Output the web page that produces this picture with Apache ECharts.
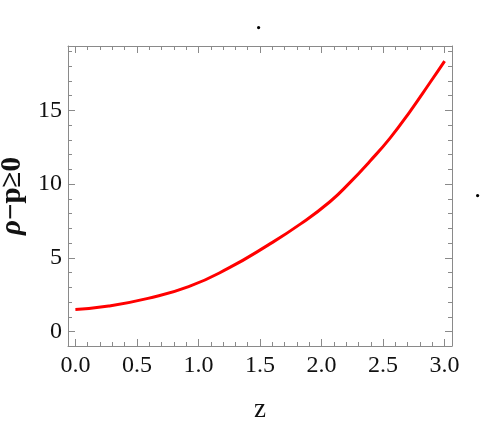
<!DOCTYPE html>
<html>
<head>
<meta charset="utf-8">
<script src="https://cdn.jsdelivr.net/npm/echarts@6/dist/echarts.min.js"></script>
<style>html,body{margin:0;padding:0;background:#fff}#c{width:491px;height:436px}</style>
</head>
<body>
<div id="c"></div>
<script>
const zValues = [0, 0.27, 0.59, 0.92, 1.24, 1.565, 1.83, 2.068, 2.23, 2.393, 2.555, 2.717, 2.879, 3.0];
const rhoMinusP = [1.5, 1.73, 2.25, 3.04, 4.28, 5.86, 7.3, 8.8, 10.1, 11.55, 13.1, 14.9, 16.85, 18.34];
const xTicks = [0, 0.5, 1.0, 1.5, 2.0, 2.5, 3.0];
const xMinor = [0.1,0.2,0.3,0.4,0.6,0.7,0.8,0.9,1.1,1.2,1.3,1.4,1.6,1.7,1.8,1.9,2.1,2.2,2.3,2.4,2.6,2.7,2.8,2.9];
const yTicks = [0, 5, 10, 15];
const yMinor = [1,2,3,4,6,7,8,9,11,12,13,14,16,17,18,19];

const FONT = 'Liberation Serif';
const frameColor = '#8a8a8a';
const xMin = -0.06, xMax = 3.06, yMin = -0.98, yMax = 19.36;

function xAx(pos, vals, len, labels, line) {
  return {
    type: 'value', position: pos, min: xMin, max: xMax,
    axisLine: {show: line, onZero: false, lineStyle: {color: frameColor, width: 1}},
    axisTick: {show: true, inside: true, length: len, customValues: vals, lineStyle: {color: frameColor}},
    axisLabel: labels ? {show: true, customValues: vals, margin: 8, color: '#111', fontFamily: FONT, fontSize: 24,
      formatter: v => v.toFixed(1)} : {show: false},
    splitLine: {show: false}
  };
}
function yAx(pos, vals, len, labels, line) {
  return {
    type: 'value', position: pos, min: yMin, max: yMax,
    axisLine: {show: line, onZero: false, lineStyle: {color: frameColor, width: 1}},
    axisTick: {show: true, inside: true, length: len, customValues: vals, lineStyle: {color: frameColor}},
    axisLabel: labels ? {show: true, customValues: vals, margin: 6, color: '#111', fontFamily: FONT, fontSize: 24,
      formatter: v => String(v)} : {show: false},
    splitLine: {show: false}
  };
}

const xAxes = [
  Object.assign(xAx('bottom', xTicks, 7, true, true), {name: 'z', nameLocation: 'middle', nameGap: 50,
    nameTextStyle: {fontFamily: FONT, fontSize: 27, color: '#111'}}),
  xAx('bottom', xMinor, 4, false, false),
  xAx('top', xTicks, 7, false, true),
  xAx('top', xMinor, 4, false, false)
];
const yAxes = [
  Object.assign(yAx('left', yTicks, 7, true, true), {name: '{i|ρ}−p≥0', nameLocation: 'middle', nameGap: 36,
    nameTextStyle: {fontFamily: FONT, fontSize: 29, fontWeight: 'bold', color: '#111',
      rich: {i: {fontFamily: FONT, fontSize: 29, fontStyle: 'italic', fontWeight: 'bold', color: '#111'}}}}),
  yAx('left', yMinor, 4, false, false),
  yAx('right', yTicks, 7, false, true),
  yAx('right', yMinor, 4, false, false)
];

const chart = echarts.init(document.getElementById('c'), null, {renderer: 'canvas'});
chart.setOption({
  animation: false,
  backgroundColor: '#fff',
  grid: {left: 68, top: 46, right: 39, bottom: 90, containLabel: false, outerBoundsMode: 'none'},
  xAxis: xAxes,
  yAxis: yAxes,
  graphic: [
    {type: 'circle', left: 257, top: 26, shape: {r: 1.6}, style: {fill: '#000'}},
    {type: 'circle', left: 476, top: 194, shape: {r: 1.6}, style: {fill: '#000'}}
  ],
  series: [{
    type: 'line', xAxisIndex: 0, yAxisIndex: 0, smooth: 0.5, showSymbol: false,
    lineStyle: {color: '#ff0000', width: 3},
    data: zValues.map((z, i) => [z, rhoMinusP[i]])
  }]
});
</script>
</body>
</html>
